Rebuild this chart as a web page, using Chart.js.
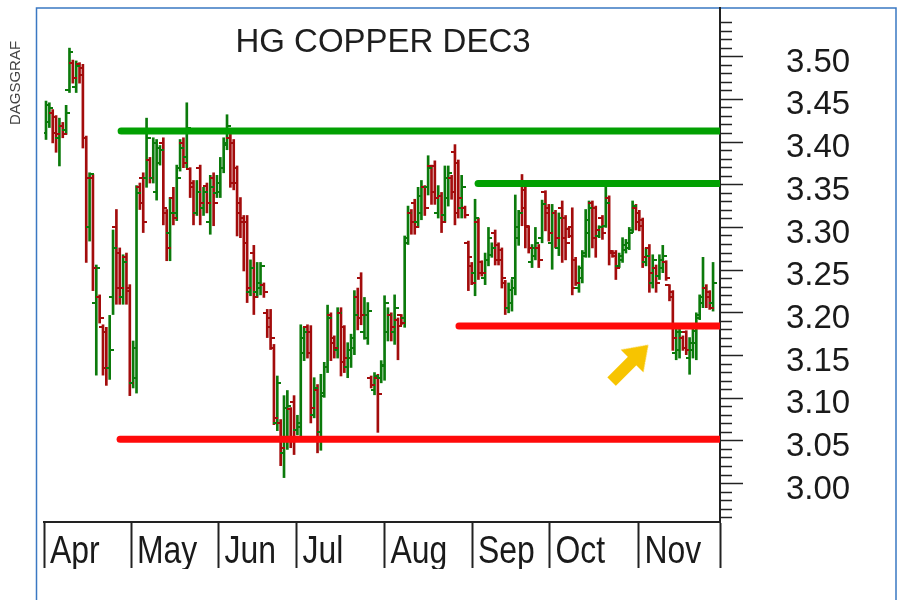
<!DOCTYPE html>
<html><head><meta charset="utf-8">
<script src="https://cdn.jsdelivr.net/npm/chart.js@4.4.0/dist/chart.umd.min.js"></script>
<style>html,body{margin:0;padding:0;background:#fff;}#wrap{width:897px;height:600px;}</style>
</head><body><div id="wrap"><canvas id="c" width="897" height="600"></canvas></div>
<script>
// ---------- data ----------
const chartTitle = 'HG COPPER DEC3';
const sideLabel = 'DAGSGRAF';
const months = ['Apr','May','Jun','Jul','Aug','Sep','Oct','Nov'];
const monthStart = [-0.6, 25.36, 51.46, 74.73, 100.99, 127.09, 150.21, 176.76];
const xEnd = 201.07;
const yTickLabels = ['3.00','3.05','3.10','3.15','3.20','3.25','3.30','3.35','3.40','3.45','3.50'];

const opens = [3.411,3.423,3.434,3.429,3.405,3.419,3.414,3.461,3.493,3.464,3.491,3.487,3.405,3.300,3.358,3.212,3.218,3.183,3.177,3.135,3.218,3.300,3.270,3.218,3.265,3.229,3.118,
3.124,3.347,3.358,3.358,3.379,3.358,3.341,3.376,3.399,3.317,3.294,3.335,3.317,3.370,3.399,3.382,3.368,3.352,3.317,3.370,3.323,3.349,3.306,3.358,3.340,3.341,3.370,3.396,3.405,
3.399,3.370,3.329,3.311,3.306,3.224,3.270,3.224,3.229,3.233,3.200,3.194,3.159,3.071,3.071,3.036,3.054,3.087,3.095,3.063,3.066,
3.153,3.183,3.177,3.080,3.110,3.060,3.106,3.136,3.197,3.171,3.157,3.200,3.183,3.136,3.147,3.159,3.218,3.241,3.177,3.171,3.124,3.110,3.124,3.124,3.138,3.177,3.197,3.177,3.192,3.197,3.194,
3.288,3.317,3.329,3.306,3.317,3.347,3.347,3.372,3.372,3.317,3.337,3.314,3.335,3.358,3.388,3.376,3.323,3.323,3.282,3.255,3.247,3.306,3.259,3.241,3.262,3.268,
3.294,3.279,3.273,3.235,3.206,3.212,3.241,3.288,3.352,3.344,3.300,3.259,3.267,3.276,3.288,3.341,3.323,3.282,3.317,3.276,3.323,3.311,3.298,3.300,3.262,3.229,
3.241,3.270,3.294,3.329,3.323,3.290,3.311,3.302,3.335,3.272,3.270,3.255,3.262,3.273,3.276,3.297,3.323,3.317,
3.309,3.259,3.276,3.235,3.253,3.243,3.253,3.259,3.232,3.224,3.153,3.157,3.171,3.177,3.147,3.157,3.165,3.197,3.212,3.229,3.224,3.212];
const highs = [3.448,3.446,3.438,3.431,3.428,3.423,3.443,3.510,3.496,3.495,3.493,3.491,3.407,3.364,3.362,3.256,3.221,3.186,3.183,3.197,3.297,3.321,3.276,3.268,3.270,3.233,3.167,
3.349,3.352,3.364,3.428,3.382,3.405,3.403,3.396,3.405,3.321,3.335,3.347,3.373,3.403,3.405,3.446,3.370,3.355,3.355,3.373,3.347,3.352,3.361,3.364,3.361,3.382,3.405,3.432,3.409,
3.403,3.372,3.335,3.314,3.314,3.262,3.279,3.259,3.259,3.235,3.204,3.204,3.163,3.126,3.075,3.103,3.109,3.089,3.103,3.080,3.186,
3.183,3.186,3.185,3.124,3.116,3.128,3.142,3.209,3.200,3.173,3.206,3.206,3.185,3.165,3.175,3.226,3.229,3.247,3.218,3.212,3.126,3.130,3.128,3.144,3.220,3.206,3.200,3.221,3.194,3.198,3.290,
3.325,3.321,3.333,3.347,3.355,3.349,3.384,3.373,3.378,3.349,3.341,3.372,3.372,3.361,3.397,3.379,3.361,3.325,3.284,3.259,3.333,3.311,3.261,3.270,3.300,3.282,
3.297,3.282,3.276,3.238,3.235,3.239,3.338,3.320,3.362,3.349,3.302,3.280,3.300,3.280,3.332,3.343,3.327,3.327,3.320,3.317,3.331,3.314,3.300,3.323,3.265,3.255,
3.273,3.321,3.331,3.331,3.325,3.302,3.314,3.354,3.337,3.273,3.273,3.270,3.288,3.286,3.300,3.331,3.327,3.320,
3.311,3.276,3.280,3.268,3.256,3.268,3.279,3.261,3.233,3.226,3.183,3.183,3.173,3.179,3.171,3.183,3.200,3.221,3.265,3.233,3.226,3.259];
const lows = [3.403,3.417,3.399,3.388,3.372,3.405,3.409,3.458,3.469,3.458,3.469,3.393,3.259,3.284,3.226,3.127,3.188,3.127,3.115,3.122,3.198,3.210,3.210,3.210,3.210,3.103,3.112,
3.106,3.321,3.294,3.347,3.352,3.352,3.332,3.373,3.303,3.261,3.261,3.303,3.308,3.366,3.370,3.370,3.335,3.303,3.314,3.303,3.314,3.317,3.292,3.302,3.335,3.335,3.364,3.391,3.347,
3.344,3.290,3.288,3.249,3.212,3.220,3.198,3.218,3.221,3.218,3.171,3.157,3.069,3.062,3.021,3.007,3.040,3.042,3.034,3.057,3.054,
3.144,3.147,3.071,3.077,3.036,3.039,3.101,3.130,3.144,3.147,3.147,3.126,3.130,3.124,3.136,3.151,3.180,3.186,3.169,3.163,3.112,3.104,3.060,3.118,3.121,3.167,3.167,3.163,3.145,3.186,3.183,
3.280,3.292,3.292,3.300,3.309,3.314,3.338,3.327,3.327,3.311,3.294,3.306,3.325,3.333,3.303,3.311,3.311,3.311,3.226,3.233,3.220,3.239,3.243,3.233,3.255,3.265,
3.256,3.256,3.229,3.198,3.200,3.202,3.221,3.279,3.302,3.276,3.270,3.253,3.262,3.253,3.282,3.296,3.284,3.251,3.276,3.267,3.259,3.262,3.288,3.221,3.232,3.224,
3.235,3.265,3.265,3.276,3.265,3.288,3.286,3.300,3.256,3.265,3.239,3.253,3.259,3.270,3.274,3.294,3.297,3.296,
3.253,3.255,3.224,3.229,3.224,3.239,3.247,3.238,3.214,3.156,3.145,3.147,3.156,3.151,3.128,3.147,3.145,3.192,3.206,3.206,3.204,3.202];
const closes = [3.443,3.440,3.411,3.409,3.419,3.409,3.434,3.505,3.475,3.489,3.478,3.405,3.358,3.362,3.253,3.253,3.194,3.135,3.135,3.156,3.276,3.229,3.229,3.259,3.225,3.118,3.159,
3.340,3.329,3.306,3.405,3.358,3.399,3.393,3.391,3.323,3.276,3.317,3.311,3.358,3.393,3.376,3.417,3.347,3.317,3.341,3.329,3.341,3.329,3.347,3.329,3.352,3.370,3.399,3.419,3.352,
3.352,3.317,3.306,3.282,3.229,3.253,3.218,3.235,3.255,3.224,3.183,3.171,3.077,3.118,3.042,3.089,3.091,3.054,3.054,3.071,3.171,
3.177,3.153,3.089,3.112,3.054,3.103,3.136,3.194,3.165,3.159,3.200,3.142,3.147,3.157,3.171,3.197,3.194,3.197,3.197,3.202,3.115,3.126,3.105,3.139,3.212,3.197,3.183,3.206,3.185,3.188,3.282,
3.317,3.306,3.300,3.337,3.347,3.323,3.370,3.341,3.335,3.337,3.306,3.358,3.364,3.341,3.317,3.335,3.347,3.314,3.265,3.235,3.311,3.247,3.247,3.262,3.288,3.276,
3.262,3.262,3.241,3.206,3.227,3.229,3.300,3.317,3.323,3.302,3.276,3.276,3.282,3.262,3.327,3.317,3.294,3.317,3.288,3.311,3.288,3.282,3.290,3.229,3.235,3.253,
3.267,3.309,3.323,3.288,3.297,3.300,3.294,3.329,3.270,3.267,3.253,3.267,3.279,3.282,3.294,3.325,3.306,3.302,
3.265,3.267,3.247,3.262,3.235,3.262,3.267,3.241,3.218,3.171,3.177,3.177,3.159,3.157,3.165,3.179,3.194,3.218,3.229,3.218,3.206,3.235];

// support / resistance levels drawn on the chart (price, first bar index)
const levelPrice = [3.413, 3.3515, 3.1845, 3.052];
const levelFrom  = [22.4, 128.9, 123.2, 22.1];
const levelKind  = ['resist','resist','support','support'];
const arrowAt = [174.2, 3.141];

// ---------- styling helpers ----------
const UP = '#0b7a0b', DOWN = '#a30c0c';
const isUp = i => closes[i] >= opens[i];
function tickCanvas(color, side){
  const c = document.createElement('canvas'); c.width = 8; c.height = 2;
  const g = c.getContext('2d'); g.fillStyle = color;
  g.fillRect(side === 'open' ? 0 : 4, 0, 4, 2); return c;
}
const ticksImg = {
  open:  {up: tickCanvas(UP,'open'),  down: tickCanvas(DOWN,'open')},
  close: {up: tickCanvas(UP,'close'), down: tickCanvas(DOWN,'close')}
};
function arrowCanvas(color){
  const c = document.createElement('canvas'); c.width = 60; c.height = 60;
  const g = c.getContext('2d'); g.translate(30,30); g.fillStyle = color;
  g.beginPath();
  g.moveTo(-26,-6); g.lineTo(3,-6); g.lineTo(3,-16); g.lineTo(26,0); g.lineTo(3,16); g.lineTo(3,6); g.lineTo(-26,6);
  g.closePath(); g.fill(); return c;
}

const idx = opens.map((_, i) => i);
const datasets = [];
datasets.push({
  type: 'bar', label: 'range', order: 5,
  data: idx.map(i => ({x: i, y: [lows[i], highs[i]]})),
  backgroundColor: idx.map(i => isUp(i) ? UP : DOWN),
  borderWidth: 0, barThickness: 2, grouped: false
});
['open','close'].forEach(side => {
  const src = side === 'open' ? opens : closes;
  datasets.push({
    type: 'line', label: side, order: 4, showLine: false,
    data: idx.map(i => ({x: i, y: src[i]})),
    pointRadius: 2, pointHoverRadius: 2,
    pointStyle: ctx => ticksImg[side][isUp(ctx.dataIndex) ? 'up' : 'down']
  });
});
levelPrice.forEach((p, k) => {
  datasets.push({
    type: 'line', label: 'level' + k, order: 1,
    data: [{x: levelFrom[k], y: p}, {x: xEnd, y: p}],
    borderColor: levelKind[k] === 'resist' ? '#02a002' : '#ff0a0a',
    borderWidth: 7, borderCapStyle: 'round', pointRadius: 0, fill: false
  });
});
datasets.push({
  type: 'scatter', label: 'arrow', order: 0,
  data: [{x: arrowAt[0], y: arrowAt[1]}],
  pointStyle: arrowCanvas('#f7c400'), pointRotation: -45, pointRadius: 5
});

const decor = {
  id: 'decor',
  beforeDraw(chart){
    const g = chart.ctx; g.save();
    g.fillStyle = '#fff'; g.fillRect(0,0,chart.width,chart.height);
    g.strokeStyle = '#3a78c2'; g.lineWidth = 1.5;
    g.beginPath(); g.moveTo(36.5,600); g.lineTo(36.5,8); g.lineTo(896,8); g.lineTo(896,600); g.stroke();
    g.restore();
  },
  afterDraw(chart){
    const g = chart.ctx; const xs = chart.scales.x; g.save();
    // month names in the date row (narrow face)
    g.fillStyle = '#1a1a1a';
    g.font = '38px "Liberation Sans", Arial, sans-serif';
    g.textAlign = 'left'; g.textBaseline = 'alphabetic';
    months.forEach((m, i) => {
      g.save(); g.translate(xs.getPixelForValue(monthStart[i]) + 6, 563); g.scale(0.84, 1);
      g.fillText(m, 0, 0); g.restore();
    });
    // clip month row at its lower edge
    g.fillStyle = '#fff'; g.fillRect(38, 569, 856, 31);
    g.fillStyle = '#1e1e1e';
    g.font = '33px "Liberation Sans", Arial, sans-serif';
    g.textAlign = 'center'; g.textBaseline = 'alphabetic';
    g.fillText(chartTitle, 383, 52);
    g.translate(16, 83); g.rotate(-Math.PI/2);
    g.font = '15px "Liberation Sans", Arial, sans-serif'; g.fillStyle = '#444';
    g.textBaseline = 'middle'; g.fillText(sideLabel, 0, 0);
    g.restore();
  }
};

new Chart(document.getElementById('c'), {
  type: 'scatter',
  data: {datasets},
  options: {
    responsive: false, animation: false, devicePixelRatio: 1,
    events: [],
    layout: {padding: {left: 44, top: 8, right: 0, bottom: 0}},
    plugins: {legend: {display: false}, tooltip: {enabled: false}, title: {display: false}},
    scales: {
      x: {
        type: 'linear', position: 'bottom', min: monthStart[0], max: xEnd, bounds: 'data', offset: false,
        afterBuildTicks: s => { s.ticks = monthStart.map(v => ({value: v})).concat([{value: xEnd}]); },
        afterFit: s => { s.height = 78; },
        grid: {drawOnChartArea: false, drawTicks: true, tickLength: 46, tickColor: '#222', tickWidth: 2, offset: false},
        border: {display: true, color: '#222', width: 2},
        ticks: {autoSkip: false, maxRotation: 0, minRotation: 0, padding: 0, font: {size: 10}, callback: () => ''}
      },
      y: {
        type: 'linear', position: 'right', min: 2.955, max: 3.557, bounds: 'data',
        afterBuildTicks: s => { const t = []; for (let k = 296; k <= 354; k++) t.push({value: k/100}); s.ticks = t; },
        afterFit: s => { s.width = 177; },
        grid: {drawOnChartArea: false, drawTicks: true, tickLength: 87, tickColor: '#222', tickWidth: 1.5,
          tickBorderDash: c => (yTickLabels.includes(Number(c.tick.value).toFixed(2)) ? [22, 300] : [11, 300])},
        border: {display: true, color: '#222', width: 2},
        ticks: {
          autoSkip: false, padding: -21, labelOffset: 6, color: '#1a1a1a',
          font: {family: '"Liberation Sans", Arial, sans-serif', size: 33},
          callback: v => { const s = Number(v).toFixed(2); return yTickLabels.includes(s) ? s : ''; }
        }
      }
    }
  },
  plugins: [decor]
});
</script></body></html>
